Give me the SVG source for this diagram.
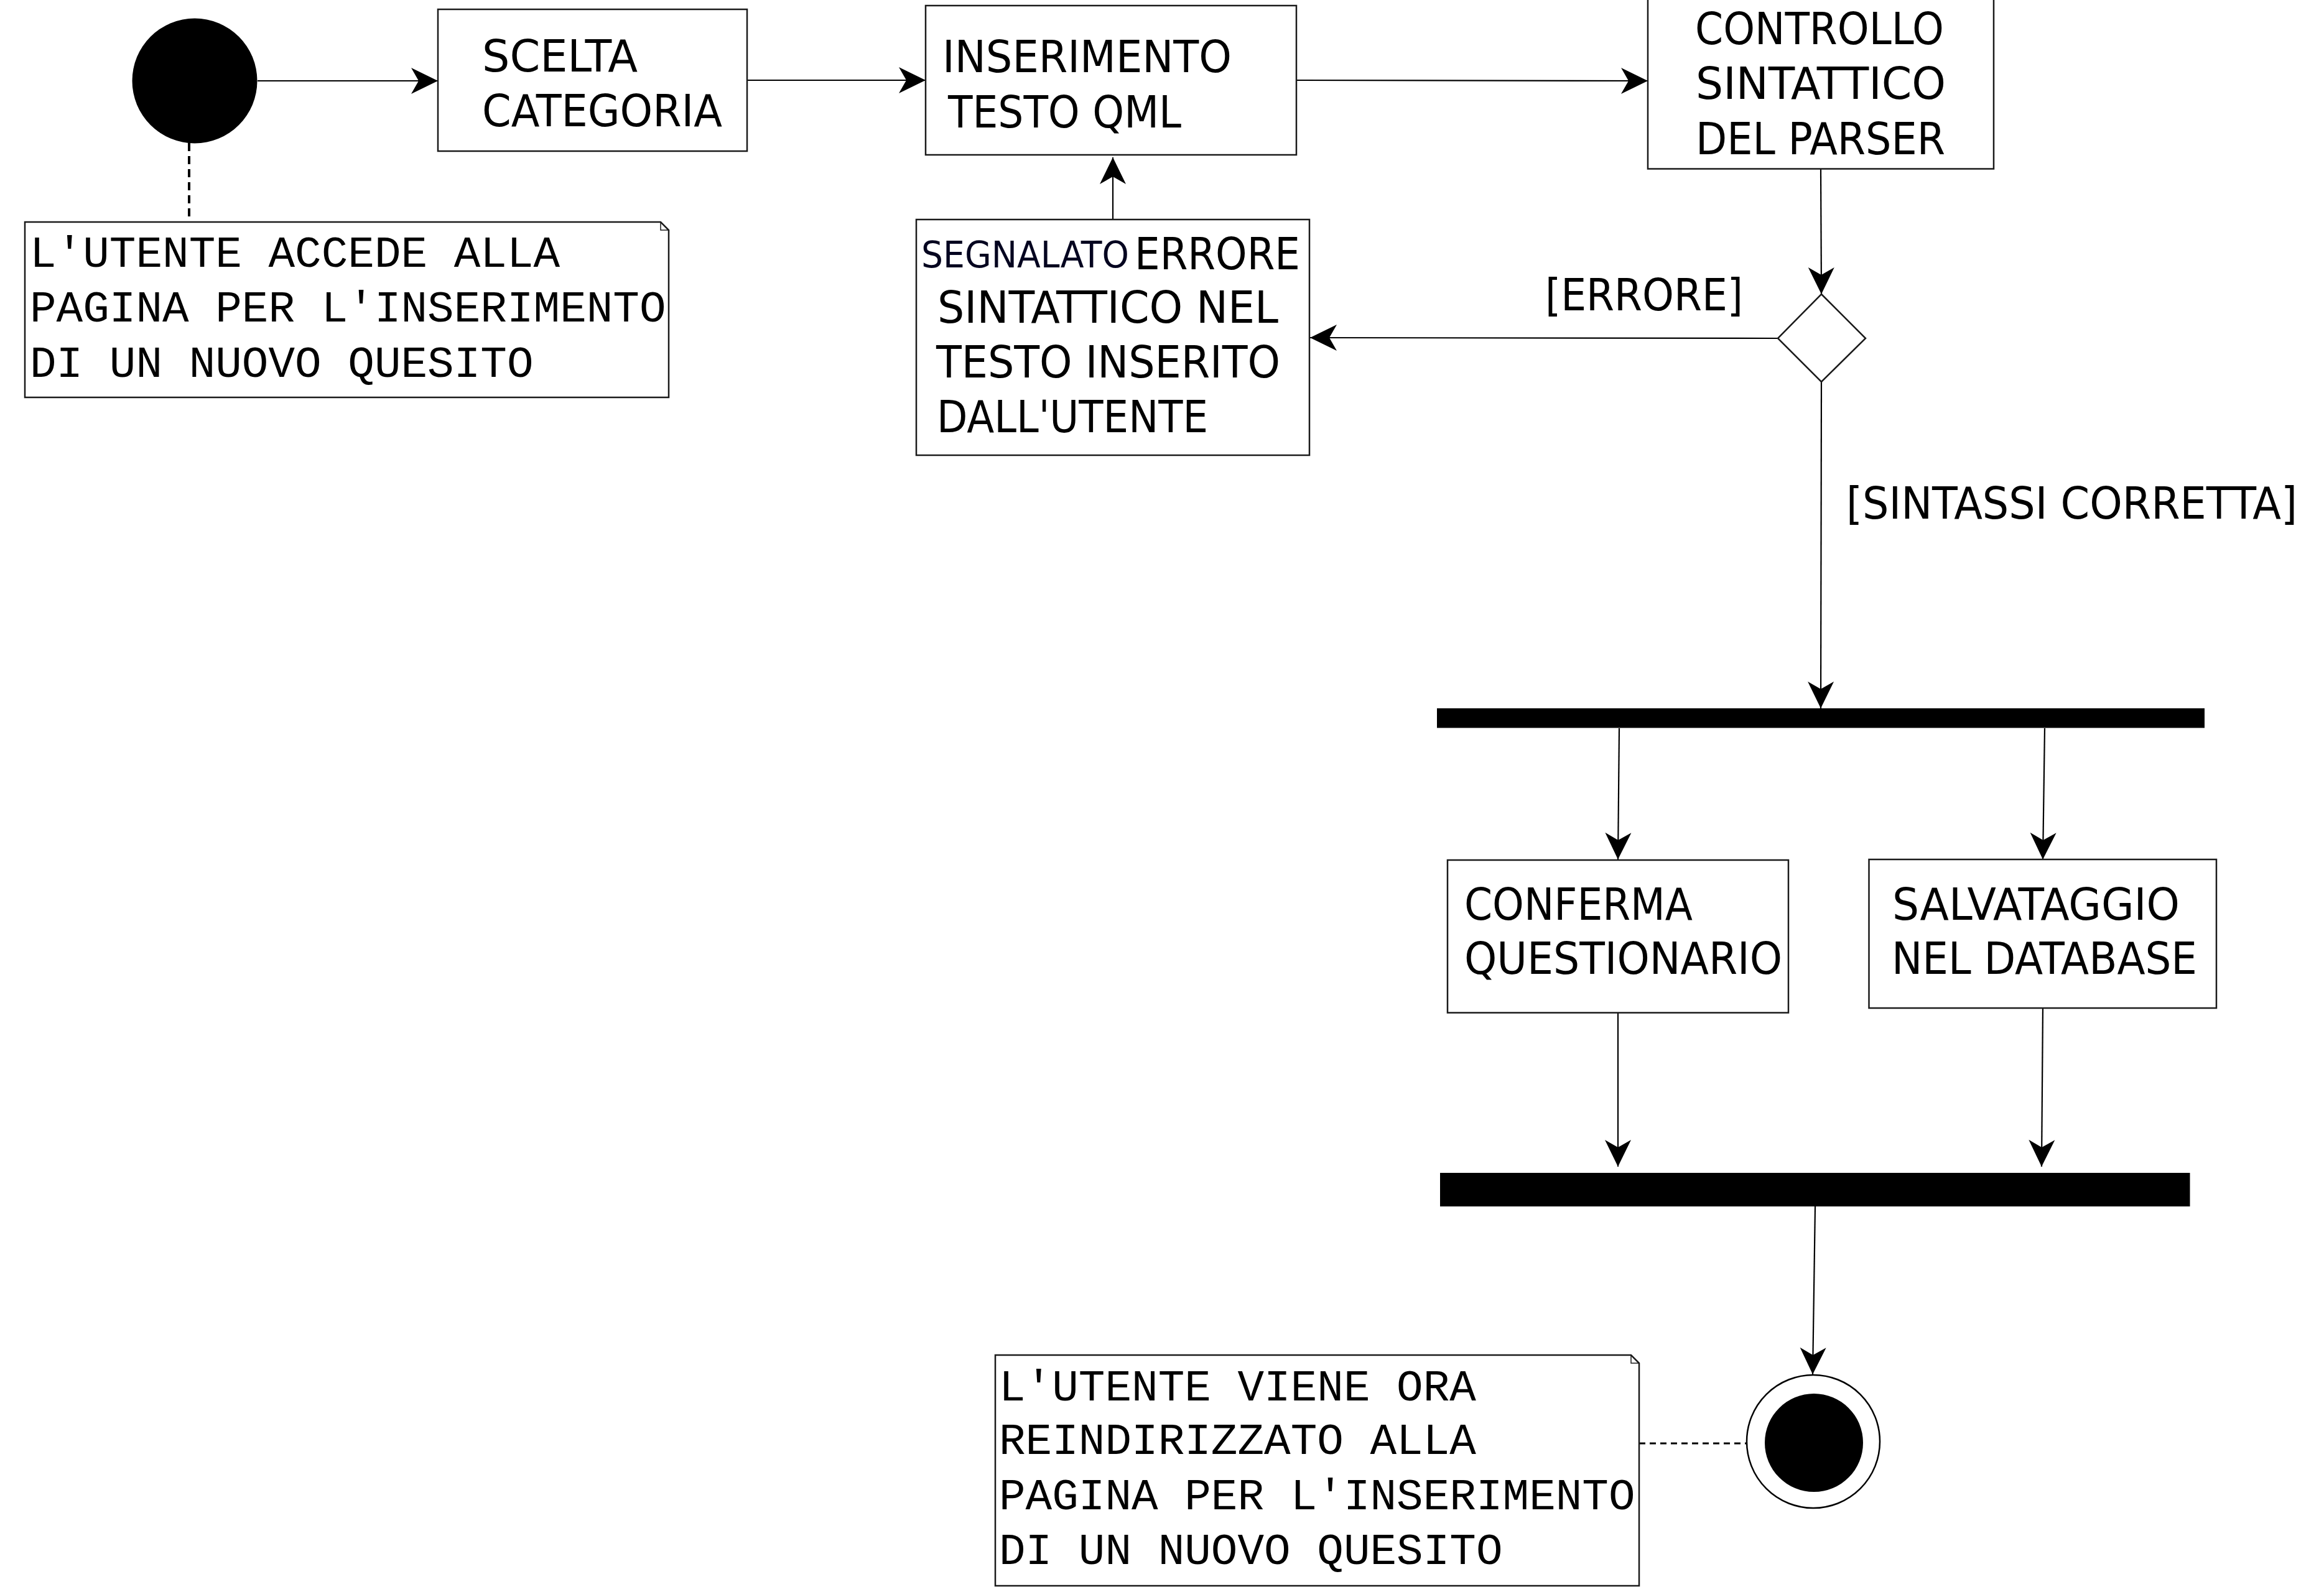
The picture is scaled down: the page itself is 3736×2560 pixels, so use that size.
<svg xmlns="http://www.w3.org/2000/svg" width="3736" height="2560" viewBox="0 0 3736 2560">
  <style>
    .box { fill: #ffffff; stroke: #1a1a1a; stroke-width: 2.5; }
    .note { fill: #ffffff; stroke: #1a1a1a; stroke-width: 2.5; }
    .fold { fill: none; stroke: #1a1a1a; stroke-width: 1.5; }
    .lbl { font-family: "DejaVu Sans Condensed", "DejaVu Sans", sans-serif; font-stretch: condensed; font-size: 72px; fill: #000; }
    .lbl70 { font-family: "DejaVu Sans Condensed", "DejaVu Sans", sans-serif; font-stretch: condensed; font-size: 72px; fill: #000; }
    .small { font-family: "DejaVu Sans Condensed", "DejaVu Sans", sans-serif; font-stretch: condensed; font-size: 59px; fill: #050520; }
    .mono { font-family: "Liberation Mono", "DejaVu Sans Mono", monospace; font-size: 71px; fill: #000; }
    .conn { fill: none; stroke: #000; stroke-width: 2.2; }
    .dash1 { fill: none; stroke: #000; stroke-width: 4; stroke-dasharray: 13 8; }
    .dash2 { fill: none; stroke: #000; stroke-width: 3; stroke-dasharray: 10 7; }
  </style>
  <defs>
    <marker id="arr" markerUnits="userSpaceOnUse" markerWidth="50" markerHeight="50" viewBox="-46 -25 50 50" refX="0" refY="0" orient="auto">
      <path d="M0,0 L-43,-21 L-31,0 L-43,21 Z" fill="#000"/>
    </marker>
  </defs>
  <rect x="0" y="0" width="3736" height="2560" fill="#ffffff"/>

  <g id="connectors">
    <line class="conn" x1="414" y1="130" x2="704" y2="130" marker-end="url(#arr)"/>
    <line class="conn" x1="1201" y1="129" x2="1488" y2="129" marker-end="url(#arr)"/>
    <line class="conn" x1="2085" y1="129" x2="2649" y2="130" marker-end="url(#arr)"/>
    <line class="conn" x1="2927" y1="272" x2="2928" y2="473" marker-end="url(#arr)"/>
    <line class="conn" x1="2858" y1="544" x2="2106" y2="543" marker-end="url(#arr)"/>
    <line class="conn" x1="1789" y1="353" x2="1789" y2="253" marker-end="url(#arr)"/>
    <line class="conn" x1="2928" y1="614" x2="2927" y2="1139" marker-end="url(#arr)"/>
    <line class="conn" x1="2603" y1="1171" x2="2601" y2="1382" marker-end="url(#arr)"/>
    <line class="conn" x1="3287" y1="1171" x2="3284" y2="1382" marker-end="url(#arr)"/>
    <line class="conn" x1="2601" y1="1628" x2="2601" y2="1876" marker-end="url(#arr)"/>
    <line class="conn" x1="3284" y1="1621" x2="3282" y2="1876" marker-end="url(#arr)"/>
    <line class="conn" x1="2918" y1="1940" x2="2914" y2="2210" marker-end="url(#arr)"/>
    <line class="dash1" x1="304" y1="230" x2="304" y2="357"/>
    <line class="dash2" x1="2635" y1="2321" x2="2837" y2="2321"/>
    <text class="lbl" x="2484" y="499" textLength="318" lengthAdjust="spacingAndGlyphs">[ERRORE]</text>
    <text class="lbl" x="2968" y="834" textLength="725" lengthAdjust="spacingAndGlyphs">[SINTASSI CORRETTA]</text>
  </g>

  <g id="start">
    <circle cx="313" cy="130" r="100.5" fill="#000"/>
  </g>

  <g id="note1">
    <path class="note" d="M40,357 L1062,357 L1075,370 L1075,639 L40,639 Z"/>
    <path class="fold" d="M1062,357 L1062,370 L1075,370"/>
    <text class="mono" x="48" y="429">L'UTENTE ACCEDE ALLA</text>
    <text class="mono" x="48" y="517">PAGINA PER L'INSERIMENTO</text>
    <text class="mono" x="48" y="606">DI UN NUOVO QUESITO</text>
  </g>

  <g id="scelta">
    <rect class="box" x="704" y="15" width="497" height="228"/>
    <text class="lbl" x="775" y="115" textLength="250" lengthAdjust="spacingAndGlyphs">SCELTA</text>
    <text class="lbl" x="775" y="203" textLength="386" lengthAdjust="spacingAndGlyphs">CATEGORIA</text>
  </g>

  <g id="inserimento">
    <rect class="box" x="1488" y="9" width="596" height="240"/>
    <text class="lbl" x="1515" y="116" textLength="465" lengthAdjust="spacingAndGlyphs">INSERIMENTO</text>
    <text class="lbl" x="1524" y="205" textLength="375" lengthAdjust="spacingAndGlyphs">TESTO QML</text>
  </g>

  <g id="controllo">
    <rect class="box" x="2649" y="-20" width="556" height="291.5"/>
    <text class="lbl" x="2725" y="71" textLength="400" lengthAdjust="spacingAndGlyphs">CONTROLLO</text>
    <text class="lbl" x="2726" y="159" textLength="402" lengthAdjust="spacingAndGlyphs">SINTATTICO</text>
    <text class="lbl" x="2726" y="248" textLength="401" lengthAdjust="spacingAndGlyphs">DEL PARSER</text>
  </g>

  <g id="decision">
    <polygon class="box" points="2928,473 2999,544 2928,614 2858,544"/>
  </g>

  <g id="segnalato">
    <rect class="box" x="1473" y="353" width="632" height="379"/>
    <text x="1481" y="430"><tspan class="small" textLength="334" lengthAdjust="spacingAndGlyphs">SEGNALATO</tspan></text>
    <text class="lbl" x="1824" y="433" textLength="266" lengthAdjust="spacingAndGlyphs">ERRORE</text>
    <text class="lbl" x="1507" y="519" textLength="548" lengthAdjust="spacingAndGlyphs">SINTATTICO NEL</text>
    <text class="lbl" x="1505" y="607" textLength="553" lengthAdjust="spacingAndGlyphs">TESTO INSERITO</text>
    <text class="lbl" x="1506" y="695" textLength="436" lengthAdjust="spacingAndGlyphs">DALL'UTENTE</text>
  </g>

  <g id="fork">
    <rect x="2310" y="1139" width="1234" height="31.5" fill="#000"/>
  </g>

  <g id="conferma">
    <rect class="box" x="2327" y="1383" width="548" height="245.5"/>
    <text class="lbl70" x="2354" y="1479" textLength="367" lengthAdjust="spacingAndGlyphs">CONFERMA</text>
    <text class="lbl70" x="2354" y="1566" textLength="511" lengthAdjust="spacingAndGlyphs">QUESTIONARIO</text>
  </g>

  <g id="salvataggio">
    <rect class="box" x="3004.5" y="1382" width="558.5" height="239"/>
    <text class="lbl70" x="3042" y="1479" textLength="462" lengthAdjust="spacingAndGlyphs">SALVATAGGIO</text>
    <text class="lbl70" x="3041" y="1566" textLength="491" lengthAdjust="spacingAndGlyphs">NEL DATABASE</text>
  </g>

  <g id="join">
    <rect x="2315" y="1886" width="1205.5" height="54" fill="#000"/>
  </g>

  <g id="final">
    <circle cx="2915" cy="2318" r="107" fill="#fff" stroke="#000" stroke-width="2.5"/>
    <circle cx="2916" cy="2320" r="79" fill="#000"/>
  </g>

  <g id="note2">
    <path class="note" d="M1600,2179 L2622,2179 L2635,2192 L2635,2550 L1600,2550 Z"/>
    <path class="fold" d="M2622,2179 L2622,2192 L2635,2192"/>
    <text class="mono" x="1606" y="2252">L'UTENTE VIENE ORA</text>
    <text class="mono" x="1606" y="2338">REINDIRIZZATO ALLA</text>
    <text class="mono" x="1606" y="2427">PAGINA PER L'INSERIMENTO</text>
    <text class="mono" x="1606" y="2515">DI UN NUOVO QUESITO</text>
  </g>
</svg>
